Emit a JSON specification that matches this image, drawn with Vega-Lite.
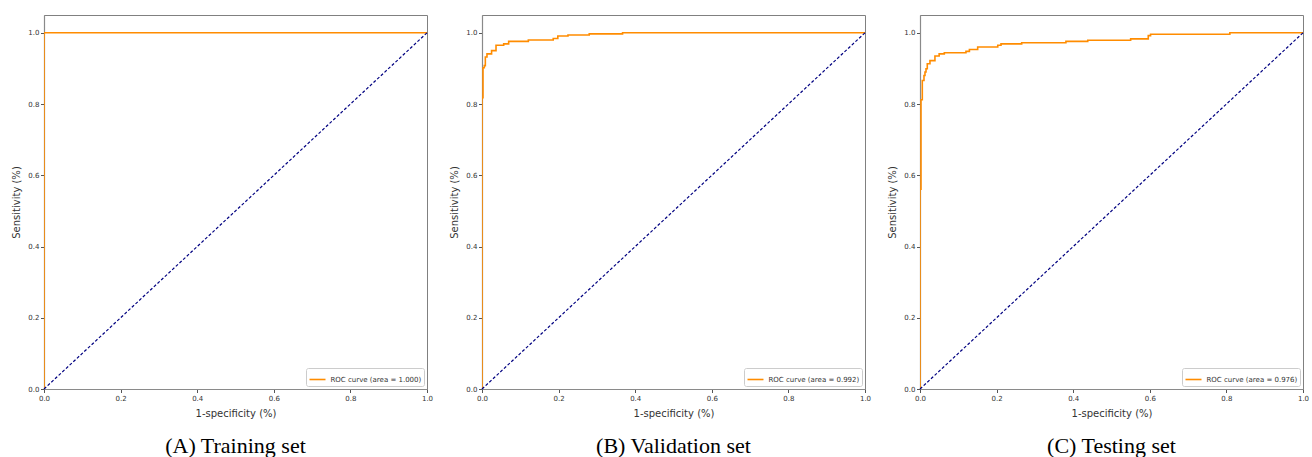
{
  "$schema": "https://vega.github.io/schema/vega-lite/v6.json",
  "padding": {"left": 11, "top": 14, "right": 0, "bottom": 0},
  "background": "white",
  "datasets": {
    "rocA": [
      {"i": 0, "fpr": 0, "tpr": 0, "series": "ROC curve (area = 1.000)"},
      {"i": 1, "fpr": 0, "tpr": 1, "series": "ROC curve (area = 1.000)"},
      {"i": 2, "fpr": 1, "tpr": 1, "series": "ROC curve (area = 1.000)"}
    ],
    "rocB": [
      {"i": 0, "fpr": 0, "tpr": 0, "series": "ROC curve (area = 0.992)"},
      {"i": 1, "fpr": 0, "tpr": 0.818, "series": "ROC curve (area = 0.992)"},
      {"i": 2, "fpr": 0.0026, "tpr": 0.902, "series": "ROC curve (area = 0.992)"},
      {"i": 3, "fpr": 0.006, "tpr": 0.908, "series": "ROC curve (area = 0.992)"},
      {"i": 4, "fpr": 0.0087, "tpr": 0.932, "series": "ROC curve (area = 0.992)"},
      {"i": 5, "fpr": 0.013, "tpr": 0.941, "series": "ROC curve (area = 0.992)"},
      {"i": 6, "fpr": 0.025, "tpr": 0.95, "series": "ROC curve (area = 0.992)"},
      {"i": 7, "fpr": 0.0366, "tpr": 0.965, "series": "ROC curve (area = 0.992)"},
      {"i": 8, "fpr": 0.0566, "tpr": 0.969, "series": "ROC curve (area = 0.992)"},
      {"i": 9, "fpr": 0.0696, "tpr": 0.976, "series": "ROC curve (area = 0.992)"},
      {"i": 10, "fpr": 0.121, "tpr": 0.98, "series": "ROC curve (area = 0.992)"},
      {"i": 11, "fpr": 0.186, "tpr": 0.984, "series": "ROC curve (area = 0.992)"},
      {"i": 12, "fpr": 0.198, "tpr": 0.991, "series": "ROC curve (area = 0.992)"},
      {"i": 13, "fpr": 0.2245, "tpr": 0.994, "series": "ROC curve (area = 0.992)"},
      {"i": 14, "fpr": 0.28, "tpr": 0.997, "series": "ROC curve (area = 0.992)"},
      {"i": 15, "fpr": 0.367, "tpr": 1.0, "series": "ROC curve (area = 0.992)"},
      {"i": 16, "fpr": 1.0, "tpr": 1.0, "series": "ROC curve (area = 0.992)"}
    ],
    "rocC": [
      {"i": 0, "fpr": 0, "tpr": 0, "series": "ROC curve (area = 0.976)"},
      {"i": 1, "fpr": 0, "tpr": 0.561, "series": "ROC curve (area = 0.976)"},
      {"i": 2, "fpr": 0.0026, "tpr": 0.812, "series": "ROC curve (area = 0.976)"},
      {"i": 3, "fpr": 0.006, "tpr": 0.866, "series": "ROC curve (area = 0.976)"},
      {"i": 4, "fpr": 0.0104, "tpr": 0.88, "series": "ROC curve (area = 0.976)"},
      {"i": 5, "fpr": 0.013, "tpr": 0.89, "series": "ROC curve (area = 0.976)"},
      {"i": 6, "fpr": 0.0157, "tpr": 0.899, "series": "ROC curve (area = 0.976)"},
      {"i": 7, "fpr": 0.019, "tpr": 0.913, "series": "ROC curve (area = 0.976)"},
      {"i": 8, "fpr": 0.026, "tpr": 0.922, "series": "ROC curve (area = 0.976)"},
      {"i": 9, "fpr": 0.039, "tpr": 0.935, "series": "ROC curve (area = 0.976)"},
      {"i": 10, "fpr": 0.05, "tpr": 0.941, "series": "ROC curve (area = 0.976)"},
      {"i": 11, "fpr": 0.0635, "tpr": 0.944, "series": "ROC curve (area = 0.976)"},
      {"i": 12, "fpr": 0.12, "tpr": 0.948, "series": "ROC curve (area = 0.976)"},
      {"i": 13, "fpr": 0.129, "tpr": 0.953, "series": "ROC curve (area = 0.976)"},
      {"i": 14, "fpr": 0.1506, "tpr": 0.96, "series": "ROC curve (area = 0.976)"},
      {"i": 15, "fpr": 0.203, "tpr": 0.965, "series": "ROC curve (area = 0.976)"},
      {"i": 16, "fpr": 0.2115, "tpr": 0.969, "series": "ROC curve (area = 0.976)"},
      {"i": 17, "fpr": 0.2655, "tpr": 0.972, "series": "ROC curve (area = 0.976)"},
      {"i": 18, "fpr": 0.381, "tpr": 0.976, "series": "ROC curve (area = 0.976)"},
      {"i": 19, "fpr": 0.438, "tpr": 0.979, "series": "ROC curve (area = 0.976)"},
      {"i": 20, "fpr": 0.55, "tpr": 0.983, "series": "ROC curve (area = 0.976)"},
      {"i": 21, "fpr": 0.596, "tpr": 0.992, "series": "ROC curve (area = 0.976)"},
      {"i": 22, "fpr": 0.602, "tpr": 0.996, "series": "ROC curve (area = 0.976)"},
      {"i": 23, "fpr": 0.809, "tpr": 1.0, "series": "ROC curve (area = 0.976)"},
      {"i": 24, "fpr": 1.0, "tpr": 1.0, "series": "ROC curve (area = 0.976)"}
    ],
    "diag": [
      {"fpr": 0, "tpr": 0},
      {"fpr": 1, "tpr": 1}
    ]
  },
  "config": {
    "font": "DejaVu Sans",
    "view": {"stroke": "#808080", "strokeWidth": 1},
    "axis": {
      "grid": false,
      "zindex": 1,
      "domainColor": "#8a8a8a",
      "domainWidth": 1.2,
      "tickColor": "#555555",
      "tickSize": 3.5,
      "labelFontSize": 7,
      "labelColor": "#333333",
      "labelPadding": 1.5,
      "labelFlush": false,
      "titleFontSize": 10,
      "titleFontWeight": "normal",
      "titleColor": "#333333"
    },
    "axisX": {"titlePadding": 7},
    "axisY": {"titlePadding": 6},
    "legend": {
      "orient": "bottom-right",
      "offset": 3,
      "padding": 2.5,
      "strokeColor": "#cccccc",
      "fillColor": "white",
      "cornerRadius": 2,
      "labelFontSize": 7,
      "labelColor": "#333333",
      "symbolType": "stroke",
      "symbolSize": 256,
      "symbolStrokeWidth": 1.6,
      "labelOffset": 4,
      "title": null
    },
    "title": {
      "orient": "bottom",
      "anchor": "middle",
      "font": "Liberation Serif",
      "fontSize": 22,
      "fontWeight": "normal",
      "color": "#000000",
      "offset": 18
    }
  },
  "spacing": 15,
  "resolve": {"scale": {"color": "independent"}, "legend": {"color": "independent"}},
  "hconcat": [
    {
      "width": 383,
      "height": 374,
      "title": "(A) Training set",
      "layer": [
        {
          "data": {"name": "rocA"},
          "mark": {"type": "line", "interpolate": "step-after", "strokeWidth": 1.6, "clip": true},
          "encoding": {
            "x": {"field": "fpr", "type": "quantitative", "scale": {"domain": [0, 1], "nice": false}, "axis": {"title": "1-specificity (%)", "values": [0, 0.2, 0.4, 0.6, 0.8, 1], "format": ".1f"}},
            "y": {"field": "tpr", "type": "quantitative", "scale": {"domain": [0, 1.05], "nice": false}, "axis": {"title": "Sensitivity (%)", "values": [0, 0.2, 0.4, 0.6, 0.8, 1], "format": ".1f"}},
            "order": {"field": "i", "type": "quantitative"},
            "color": {"field": "series", "type": "nominal", "scale": {"range": ["#ff8c00"]}}
          }
        },
        {
          "data": {"name": "diag"},
          "mark": {"type": "line", "color": "#000080", "strokeDash": [3, 2], "strokeWidth": 1.2},
          "encoding": {
            "x": {"field": "fpr", "type": "quantitative"},
            "y": {"field": "tpr", "type": "quantitative"}
          }
        }
      ]
    },
    {
      "width": 383,
      "height": 374,
      "title": "(B) Validation set",
      "layer": [
        {
          "data": {"name": "rocB"},
          "mark": {"type": "line", "interpolate": "step-after", "strokeWidth": 1.6, "clip": true},
          "encoding": {
            "x": {"field": "fpr", "type": "quantitative", "scale": {"domain": [0, 1], "nice": false}, "axis": {"title": "1-specificity (%)", "values": [0, 0.2, 0.4, 0.6, 0.8, 1], "format": ".1f"}},
            "y": {"field": "tpr", "type": "quantitative", "scale": {"domain": [0, 1.05], "nice": false}, "axis": {"title": "Sensitivity (%)", "values": [0, 0.2, 0.4, 0.6, 0.8, 1], "format": ".1f"}},
            "order": {"field": "i", "type": "quantitative"},
            "color": {"field": "series", "type": "nominal", "scale": {"range": ["#ff8c00"]}}
          }
        },
        {
          "data": {"name": "diag"},
          "mark": {"type": "line", "color": "#000080", "strokeDash": [3, 2], "strokeWidth": 1.2},
          "encoding": {
            "x": {"field": "fpr", "type": "quantitative"},
            "y": {"field": "tpr", "type": "quantitative"}
          }
        }
      ]
    },
    {
      "width": 383,
      "height": 374,
      "title": "(C) Testing set",
      "layer": [
        {
          "data": {"name": "rocC"},
          "mark": {"type": "line", "interpolate": "step-after", "strokeWidth": 1.6, "clip": true},
          "encoding": {
            "x": {"field": "fpr", "type": "quantitative", "scale": {"domain": [0, 1], "nice": false}, "axis": {"title": "1-specificity (%)", "values": [0, 0.2, 0.4, 0.6, 0.8, 1], "format": ".1f"}},
            "y": {"field": "tpr", "type": "quantitative", "scale": {"domain": [0, 1.05], "nice": false}, "axis": {"title": "Sensitivity (%)", "values": [0, 0.2, 0.4, 0.6, 0.8, 1], "format": ".1f"}},
            "order": {"field": "i", "type": "quantitative"},
            "color": {"field": "series", "type": "nominal", "scale": {"range": ["#ff8c00"]}}
          }
        },
        {
          "data": {"name": "diag"},
          "mark": {"type": "line", "color": "#000080", "strokeDash": [3, 2], "strokeWidth": 1.2},
          "encoding": {
            "x": {"field": "fpr", "type": "quantitative"},
            "y": {"field": "tpr", "type": "quantitative"}
          }
        }
      ]
    }
  ]
}
